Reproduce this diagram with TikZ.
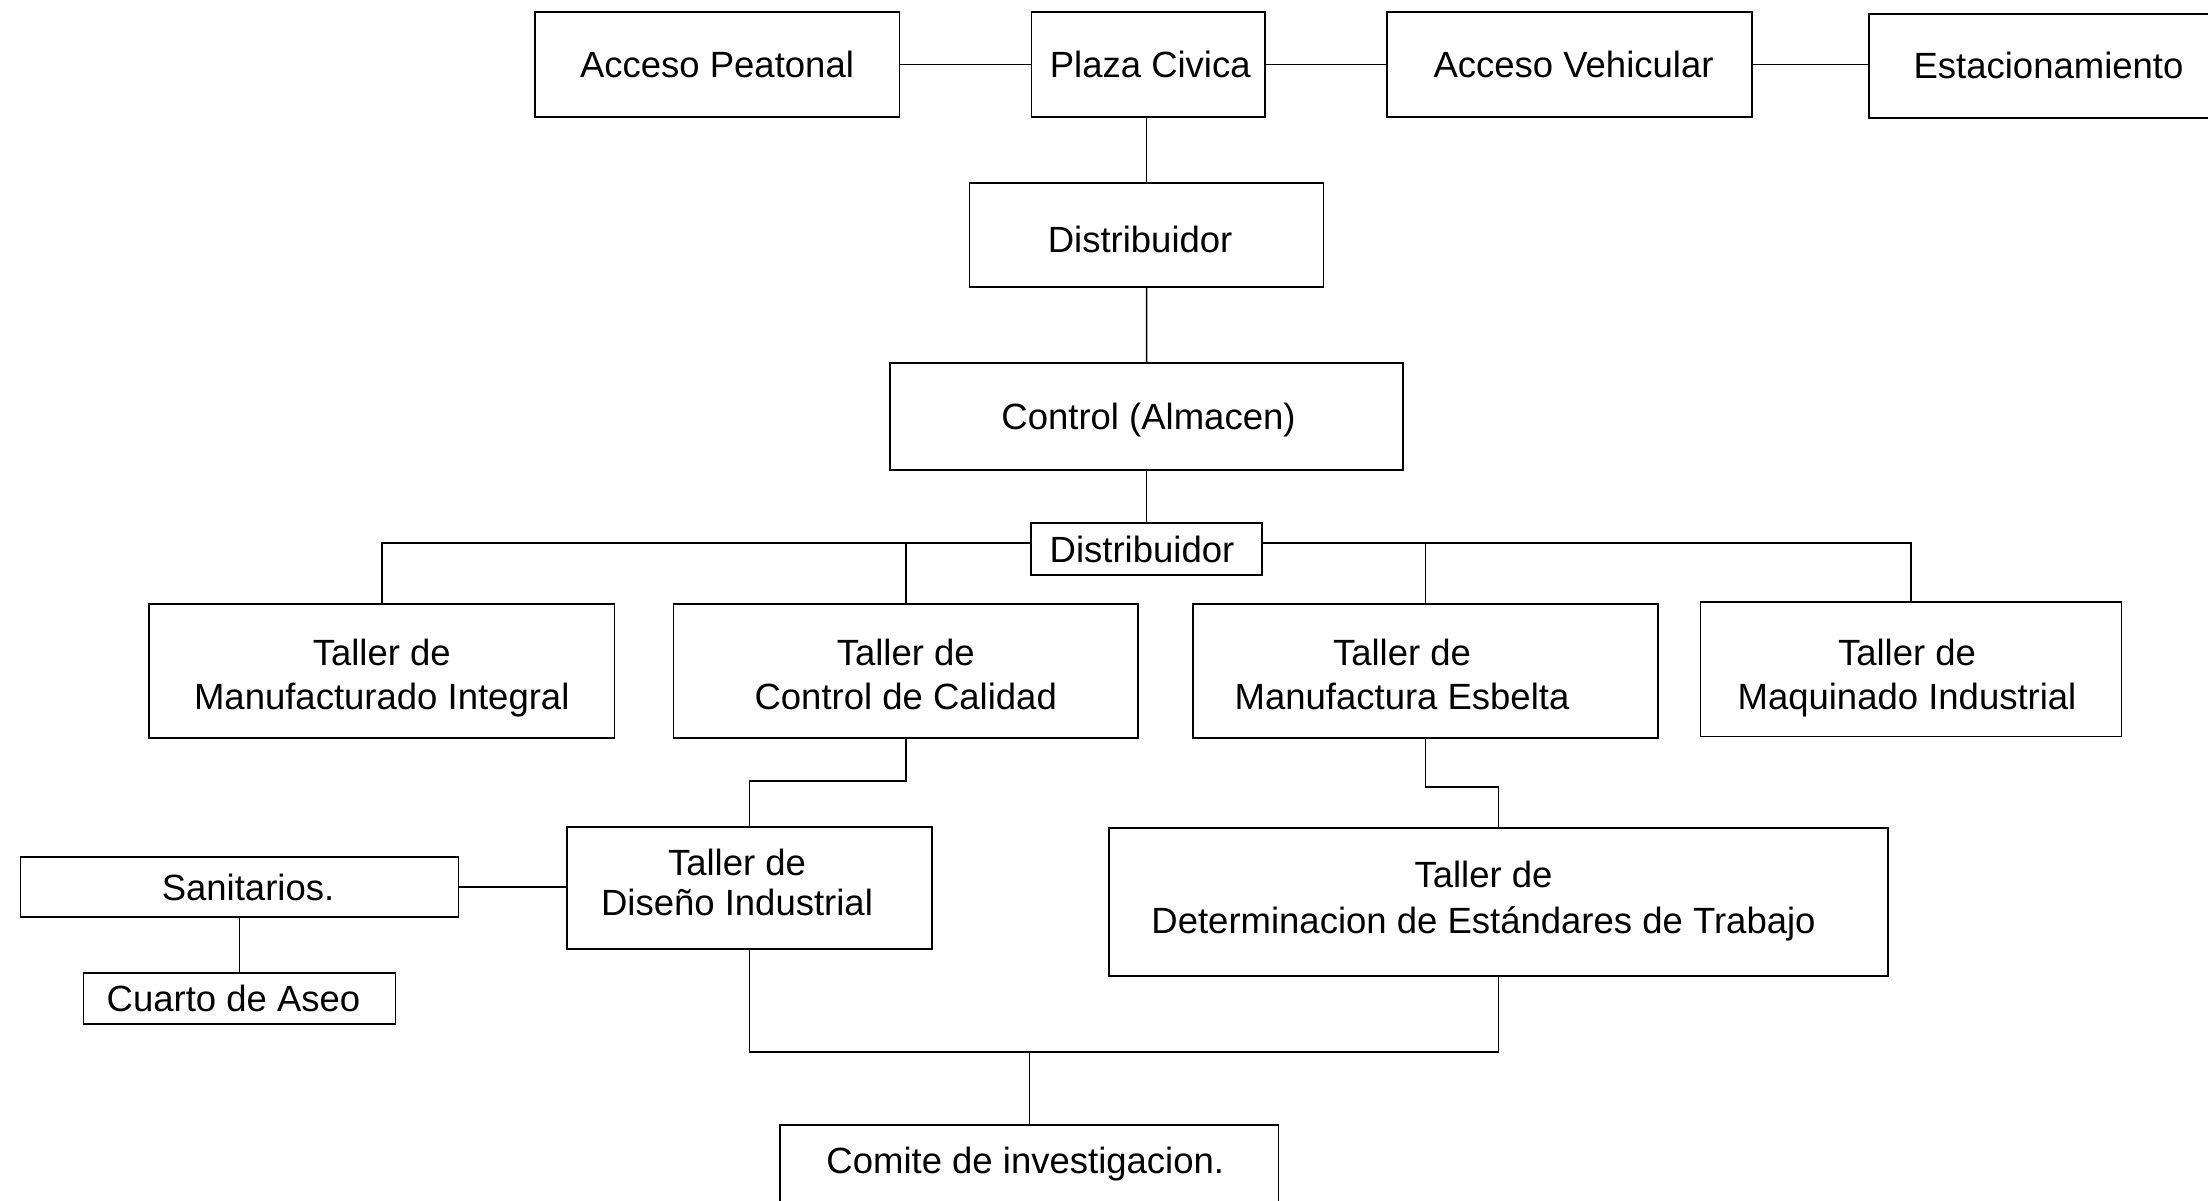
\documentclass[tikz,border=0pt]{standalone}
\usepackage{fontspec}
\setmainfont{Liberation Sans}
\begin{document}
\begin{tikzpicture}[x=1pt,y=-1pt,
  box/.style={draw=black, line width=1.5pt, rectangle, inner sep=0pt, align=center,
    font=\fontsize{36.5}{44}\selectfont, text height=26pt, text depth=0pt},
  twoline/.style={box, text height=76pt},
  link/.style={draw=black, line width=1.5pt}]
\useasboundingbox (0,0) rectangle (2208,1201);
\clip (0,0) rectangle (2208,1201);

% access row
\node[box, minimum width=364.5, minimum height=105] (ap) at (717,64.5) {Acceso Peatonal};
\node[box, minimum width=233.5, minimum height=105] (pc) at (1148.25,64.5) {\hspace*{4pt}Plaza Civica};
\node[box, minimum width=365, minimum height=105] (av) at (1569.5,64.5) {\hspace*{8pt}Acceso Vehicular};
\node[box, minimum width=359, minimum height=104] (es) at (2048.5,66) {Estacionamiento};

% central spine
\node[box, minimum width=354, minimum height=104, text height=34pt] (d1) at (1146.6,235) {\hspace*{-13pt}Distribuidor};
\node[box, minimum width=513, minimum height=107] (ctl) at (1146.5,416.5) {\hspace*{4pt}Control (Almacen)};
\node[box, minimum width=231, minimum height=52] (d2) at (1146.5,549) {\hspace*{-9pt}Distribuidor};

% workshops
\node[twoline, minimum width=465.5, minimum height=134] (tmi) at (381.75,671) {Taller de\\Manufacturado Integral};
\node[twoline, minimum width=464.5, minimum height=134] (tcc) at (905.75,671) {Taller de\\Control de Calidad};
\node[twoline, minimum width=465, minimum height=134] (tme) at (1425.5,671) {\hspace*{-47pt}Taller de\\\hspace*{-47pt}Manufactura Esbelta};
\node[twoline, minimum width=421, minimum height=134.7, text height=79.4pt] (tmq) at (1911,669.3) {\hspace*{-8pt}Taller de\\\hspace*{-8pt}Maquinado Industrial};

\node[twoline, minimum width=365, minimum height=122, text height=54pt,
  font=\fontsize{36.5}{40}\selectfont] (tdi) at (749.5,888) {\hspace*{-25pt}Taller de\\\hspace*{-25pt}Diseño Industrial};
\node[twoline, minimum width=779, minimum height=148, text height=62.6pt,
  font=\fontsize{36.5}{45.6}\selectfont] (tde) at (1498.5,902) {\hspace*{-30pt}Taller de\\\hspace*{-30pt}Determinacion de Estándares de Trabajo};

% services
\node[box, minimum width=437.7, minimum height=60] (san) at (239.5,887) {\hspace*{17pt}Sanitarios.};
\node[box, minimum width=312.3, minimum height=51] (cua) at (239.5,998.5) {\hspace*{-12pt}Cuarto de Aseo};

% committee
\node[box, anchor=north, minimum width=498.6, inner ysep=0pt, text height=49pt, text depth=42pt] (com) at (1029.3,1124) {\hspace*{-8pt}Comite de investigacion.};

% connectors: access row
\draw[link] (ap.east) -- (pc.west);
\draw[link] (pc.east) -- (av.west);
\draw[link] (av.east) -- (av.east -| es.west);

% connectors: spine
\draw[link] (d1.north |- pc.south) -- (d1.north);
\draw[link] (d1.south) -- (ctl.north);
\draw[link] (ctl.south) -- (d2.north);

% distribution bus
\coordinate (busl) at ([yshift=6pt]d2.west);
\coordinate (busr) at ([yshift=6pt]d2.east);
\draw[link] (busl) -| (tmi.north);
\draw[link] (busr) -| (tmq.north);
\draw[link] (tcc.north |- busl) -- (tcc.north);
\draw[link] (tme.north |- busr) -- (tme.north);

% elbows to second-level workshops
\draw[link] (tcc.south) -- ++(0,42) -| (tdi.north);
\draw[link] (tme.south) -- ++(0,48) -| (tde.north);

% services
\draw[link] (san.east) -- (san.east -| tdi.west);
\draw[link] (san.south) -- (cua.north);

% join to committee
\coordinate (jl) at (tdi.south |- 0,1052);
\draw[link] (tdi.south) -- (jl) -| (tde.south);
\draw[link] (com.north) -- (com.north |- jl);
\end{tikzpicture}
\end{document}
